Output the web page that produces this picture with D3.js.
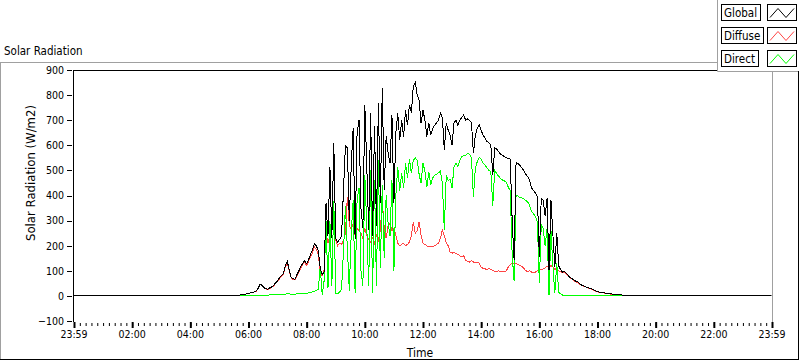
<!DOCTYPE html>
<html><head><meta charset="utf-8">
<script src="https://cdn.jsdelivr.net/npm/d3@7"></script>
<style>
html,body{margin:0;padding:0;background:#fff;}
svg{display:block;}
text{font-family:"DejaVu Sans Condensed","DejaVu Sans",sans-serif;fill:#000;}
</style></head><body>
<svg id="chart" width="800" height="361"></svg>
<script>
// ---------------- data ----------------
const chartTitle = "Solar Radiation";
const yAxisTitle = "Solar Radiation (W/m2)";
const xAxisTitle = "Time";
const seriesNames = ["Global", "Diffuse", "Direct"];
const xTickLabels = ["23:59","02:00","04:00","06:00","08:00","10:00","12:00","14:00","16:00","18:00","20:00","22:00","23:59"];
const yTickValues = [-100, 0, 100, 200, 300, 400, 500, 600, 700, 800, 900];
const dayStart = "00:00", dayEnd = "23:59";
const axisStart = "23:59";          // previous day
const sampleStart = "05:36";        // first daytime sample
const sampleStepMinutes = 4;        // daytime sampling interval
const nightValue = 0;

const globalValues = [
  0,2,4,5,7,8,10,12,14,16,
  20,30,48,42,33,28,27,32,36,42,
  52,60,72,80,88,120,138,105,75,68,
  66,85,100,117,130,140,128,145,165,185,
  208,200,180,110,84,95,370,240,515,230,
  610,230,215,225,240,420,600,590,300,520,
  670,225,650,700,350,270,760,520,263,729,
  240,677,280,768,369,827,420,637,570,530,
  720,369,650,728,620,700,635,740,680,760,
  730,834,851,800,780,688,740,700,635,690,
  640,665,680,690,700,728,710,582,690,660,
  640,600,690,700,680,700,710,721,700,705,
  700,690,568,640,670,681,660,640,630,615,
  610,600,480,590,585,575,565,560,555,550,
  548,545,300,143,530,528,520,510,500,485,
  475,460,430,420,410,396,157,390,380,320,
  390,104,382,245,117,250,120,104,95,98,
  90,80,72,68,62,58,55,48,42,40,
  36,33,31,28,24,20,17,15,14,13,
  11,10,9,8,7,6,5,4,4,3,
  2,0
];
const diffuseValues = [
  0,2,4,5,7,8,10,12,14,16,
  19,28,45,40,32,27,26,30,35,40,
  50,58,68,77,85,115,132,102,72,65,
  63,80,96,112,125,133,122,138,155,172,
  195,185,165,100,80,104,250,210,240,260,
  280,220,200,210,205,220,250,395,280,265,
  290,240,270,260,250,230,270,240,225,215,
  230,210,240,220,260,382,270,230,280,290,
  260,270,240,210,200,205,210,200,205,215,
  240,296,250,260,295,240,210,205,200,195,
  198,195,200,205,210,230,263,240,210,200,
  175,170,175,168,165,160,155,160,140,138,
  135,140,135,132,135,130,115,110,108,105,
  110,106,100,98,97,100,98,96,97,100,
  115,125,131,128,130,125,122,118,110,100,
  98,100,95,92,95,100,104,105,108,112,
  117,115,120,117,105,112,100,96,93,95,
  88,78,70,66,60,56,53,46,41,39,
  35,32,30,27,23,19,16,14,13,12,
  10,9,8,7,6,5,5,4,3,3,
  2,0
];
const directValues = [
  0,0,0,1,1,1,1,2,2,2,
  2,2,3,3,3,3,3,4,4,4,
  4,5,5,5,6,6,10,8,7,7,
  7,8,8,9,10,10,11,12,14,16,
  18,22,25,117,5,60,300,30,300,40,
  380,10,8,15,25,180,360,190,20,250,
  380,10,380,430,100,40,480,280,40,500,
  10,460,40,540,110,440,150,400,290,240,
  460,100,400,515,420,490,430,530,470,545,
  490,540,550,540,485,448,530,495,435,495,
  442,470,480,485,490,498,447,263,480,460,
  465,430,515,530,515,540,555,560,560,567,
  565,550,396,508,535,551,545,530,522,510,
  500,494,360,500,487,477,468,462,458,452,
  433,420,160,60,400,398,392,390,388,380,
  375,360,335,328,315,296,50,285,270,200,
  270,5,262,120,10,130,15,8,3,3,
  2,2,2,2,2,2,2,1,1,1,
  1,1,1,1,1,1,1,1,1,1,
  1,1,1,1,0,0,0,0,0,0,
  0,0
];

// ---------------- helpers ----------------
const toMin = s => { const [h, m] = s.split(":").map(Number); return h * 60 + m; };
const axisStartMin = toMin(axisStart) - 1440;   // -1 (23:59 of previous day)
const axisEndMin = toMin(dayEnd);               // 1439
const sampleTimes = globalValues.map((_, i) => toMin(sampleStart) + i * sampleStepMinutes);

const svg = d3.select("#chart");
const W = 800, H = 361;
const plot = {left: 73.5, right: 771.5, top: 70, bottom: 321};

const x = d3.scaleLinear().domain([axisStartMin, axisEndMin]).range([plot.left, plot.right]);
const y = d3.scaleLinear().domain([-100, 900]).range([plot.bottom, plot.top]);

// outer frame
svg.append("line").attr("x1", 0.5).attr("x2", 0.5).attr("y1", 62).attr("y2", 360).attr("stroke", "#a0a0a0");
svg.append("line").attr("x1", 0).attr("x2", 717).attr("y1", 62.5).attr("y2", 62.5).attr("stroke", "#a0a0a0");
svg.append("line").attr("x1", 798.5).attr("x2", 798.5).attr("y1", 71).attr("y2", 360).attr("stroke", "#000");
svg.append("line").attr("x1", 0).attr("x2", 799).attr("y1", 359.5).attr("y2", 359.5).attr("stroke", "#000");

// title
svg.append("text").attr("x", 4).attr("y", 55).style("font-size", "11.5px").text(chartTitle);

// plot borders
svg.append("line").attr("x1", 73.5).attr("x2", 772).attr("y1", 70.5).attr("y2", 70.5).attr("stroke", "#000");
svg.append("line").attr("x1", 73.5).attr("x2", 73.5).attr("y1", 70).attr("y2", 322).attr("stroke", "#000");
svg.append("line").attr("x1", 772.5).attr("x2", 772.5).attr("y1", 70).attr("y2", 322).attr("stroke", "#a0a0a0");

// y axis
const yAxis = d3.axisLeft(y).tickValues(yTickValues).tickSize(5).tickPadding(3).tickFormat(d3.format("d"));
const gy = svg.append("g").attr("transform", "translate(72,0)").call(yAxis);
gy.select(".domain").remove();
gy.selectAll("line").attr("stroke", "#000").attr("shape-rendering", "crispEdges");
gy.selectAll("text").style("font-size", "10.5px").style("font-family", null);

// x axis (minor + major)
const minorTicks = d3.range(axisStartMin, axisEndMin + 1, 12);
const majorTicks = d3.range(axisStartMin, axisEndMin + 1, 120);
const gxMinor = svg.append("g").attr("transform", "translate(0,323)")
  .call(d3.axisBottom(x).tickValues(minorTicks).tickSize(3).tickFormat(""));
gxMinor.select(".domain").remove();
gxMinor.selectAll("line").attr("stroke", "#000").attr("transform", "translate(0.5,0)");
const gxMajor = svg.append("g").attr("transform", "translate(0,322)")
  .call(d3.axisBottom(x).tickValues(majorTicks).tickSize(6).tickPadding(3)
    .tickFormat((d, i) => xTickLabels[i]));
gxMajor.select(".domain").remove();
gxMajor.selectAll("line").attr("stroke", "#000").attr("stroke-width", 2).attr("transform", "translate(0.5,0)");
gxMajor.selectAll("text").style("font-size", "10.5px").style("font-family", null);

// axis titles
svg.append("text").attr("transform", `translate(35,173) rotate(-90)`).attr("text-anchor", "middle")
  .style("font-size", "13px").text(yAxisTitle);
svg.append("text").attr("x", 420).attr("y", 357).attr("text-anchor", "middle")
  .style("font-size", "12px").text(xAxisTitle);

// data lines
const line = d3.line().x(d => x(d[0])).y(d => y(d[1]));
const clip = svg.append("clipPath").attr("id", "clip").append("rect")
  .attr("x", plot.left).attr("y", plot.top).attr("width", plot.right - plot.left).attr("height", plot.bottom - plot.top + 1);
const gLines = svg.append("g").attr("clip-path", "url(#clip)");
const seriesColors = {Global: "#000000", Diffuse: "#ff4444", Direct: "#00ff00"};
const mk = vals => vals.map((v, i) => [sampleTimes[i], v]);
const diffuseData = mk(diffuseValues);
const directData = mk(directValues);
const globalData = [[axisStartMin, nightValue]].concat(mk(globalValues), [[axisEndMin, nightValue]]);
[["Diffuse", diffuseData], ["Direct", directData], ["Global", globalData]].forEach(([n, d]) => {
  gLines.append("path").datum(d).attr("d", line).attr("fill", "none")
    .attr("stroke", seriesColors[n]).attr("stroke-width", 1).attr("shape-rendering", "crispEdges");
});

// legend
const lg = svg.append("g");
lg.append("rect").attr("x", 717).attr("y", 0).attr("width", 83).attr("height", 71).attr("fill", "#fff");
lg.append("line").attr("x1", 717.5).attr("x2", 717.5).attr("y1", 0).attr("y2", 71.5).attr("stroke", "#a0a0a0");
lg.append("line").attr("x1", 717.5).attr("x2", 798).attr("y1", 71.5).attr("y2", 71.5).attr("stroke", "#a0a0a0");
seriesNames.forEach((n, i) => {
  const y0 = 4.5 + i * 23;
  const t = lg.append("text").attr("x", 724).attr("y", y0 + 12).style("font-size", "11.5px").text(n);
  const tw = t.node().getComputedTextLength();
  lg.insert("rect", "text").attr("x", 721.5).attr("y", y0).attr("width", Math.round(tw) + 6).attr("height", 16)
    .attr("fill", "#fff").attr("stroke", "#000");
  lg.append("rect").attr("x", 767.5).attr("y", y0).attr("width", 29).attr("height", 16)
    .attr("fill", "#fff").attr("stroke", "#000");
  const zz = [[770, y0 + 13], [778, y0 + 4], [786, y0 + 13], [794, y0 + 4]];
  lg.append("path").attr("d", d3.line()(zz)).attr("fill", "none").attr("stroke", seriesColors[n]);
});
</script>
</body></html>
